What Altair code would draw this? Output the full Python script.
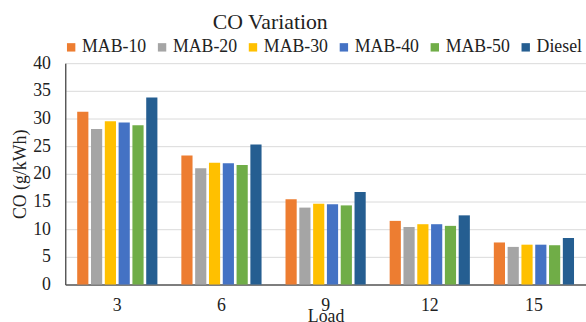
import altair as alt
import pandas as pd

loads = ["3", "6", "9", "12", "15"]
series = ["MAB-10", "MAB-20", "MAB-30", "MAB-40", "MAB-50", "Diesel"]
colors = ["#ED7D31", "#A5A5A5", "#FFC000", "#4472C4", "#70AD47", "#255E91"]

mab10 = [31.2, 23.3, 15.4, 11.5, 7.6]
mab20 = [28.1, 21.0, 13.9, 10.4, 6.8]
mab30 = [29.5, 22.0, 14.6, 10.9, 7.2]
mab40 = [29.3, 21.9, 14.5, 10.9, 7.2]
mab50 = [28.8, 21.6, 14.3, 10.6, 7.1]
diesel = [33.8, 25.3, 16.7, 12.5, 8.4]

values = [mab10, mab20, mab30, mab40, mab50, diesel]
rows = []
for s, vals in zip(series, values):
    for l, v in zip(loads, vals):
        rows.append({"Load": l, "Series": s, "CO": v})
df = pd.DataFrame(rows)

FONT = "Liberation Serif"

chart = alt.Chart(df).mark_bar().encode(
    x=alt.X("Load:N", sort=loads,
            scale=alt.Scale(paddingInner=0.23, paddingOuter=0.115),
            axis=alt.Axis(title="Load", labelAngle=0, ticks=False, labelPadding=12,
                          domainColor="#595959", domainWidth=1.5,
                          labelFont=FONT, labelFontSize=18, labelColor="#222",
                          titleFont=FONT, titleFontSize=18, titleFontWeight="normal",
                          titleColor="#222", titleBaseline="top", titleY=23)),
    xOffset=alt.XOffset("Series:N", sort=series,
                        scale=alt.Scale(paddingInner=0.19, paddingOuter=0)),
    y=alt.Y("CO:Q", scale=alt.Scale(domain=[0, 40], nice=False),
            axis=alt.Axis(title="CO (g/kWh)", values=list(range(0, 41, 5)), ticks=False,
                          labelPadding=15, domainColor="#595959", domainWidth=1.5,
                          gridColor="#D9D9D9", gridWidth=1,
                          labelFont=FONT, labelFontSize=18, labelColor="#222",
                          titleFont=FONT, titleFontSize=18, titleFontWeight="normal",
                          titleColor="#222", titleAngle=-90, titleX=-45, titleY=112,
                          titleAlign="center", titleBaseline="middle")),
    color=alt.Color("Series:N", sort=series,
                    scale=alt.Scale(domain=series, range=colors),
                    legend=alt.Legend(title=None, orient="none", direction="horizontal",
                                      legendX=-3, legendY=-25, padding=0,
                                      symbolType="square", symbolSize=72,
                                      symbolStrokeWidth=0, symbolOffset=0,
                                      labelFont=FONT, labelFontSize=18, labelColor="#222",
                                      labelOffset=2, columnPadding=6)),
).properties(
    width=527,
    height=224,
    title=alt.TitleParams("CO Variation", font=FONT, fontSize=22, fontWeight="normal",
                          color="#222", anchor="middle", dx=-56, offset=5),
    autosize=alt.AutoSizeParams(type="none"),
    padding={"left": 66, "top": 62, "right": 0, "bottom": 36},
).configure_view(stroke=None).configure_axis(grid=True).configure_axisX(grid=False)

chart.save("out.html", embed_options={"renderer": "svg", "actions": False})
